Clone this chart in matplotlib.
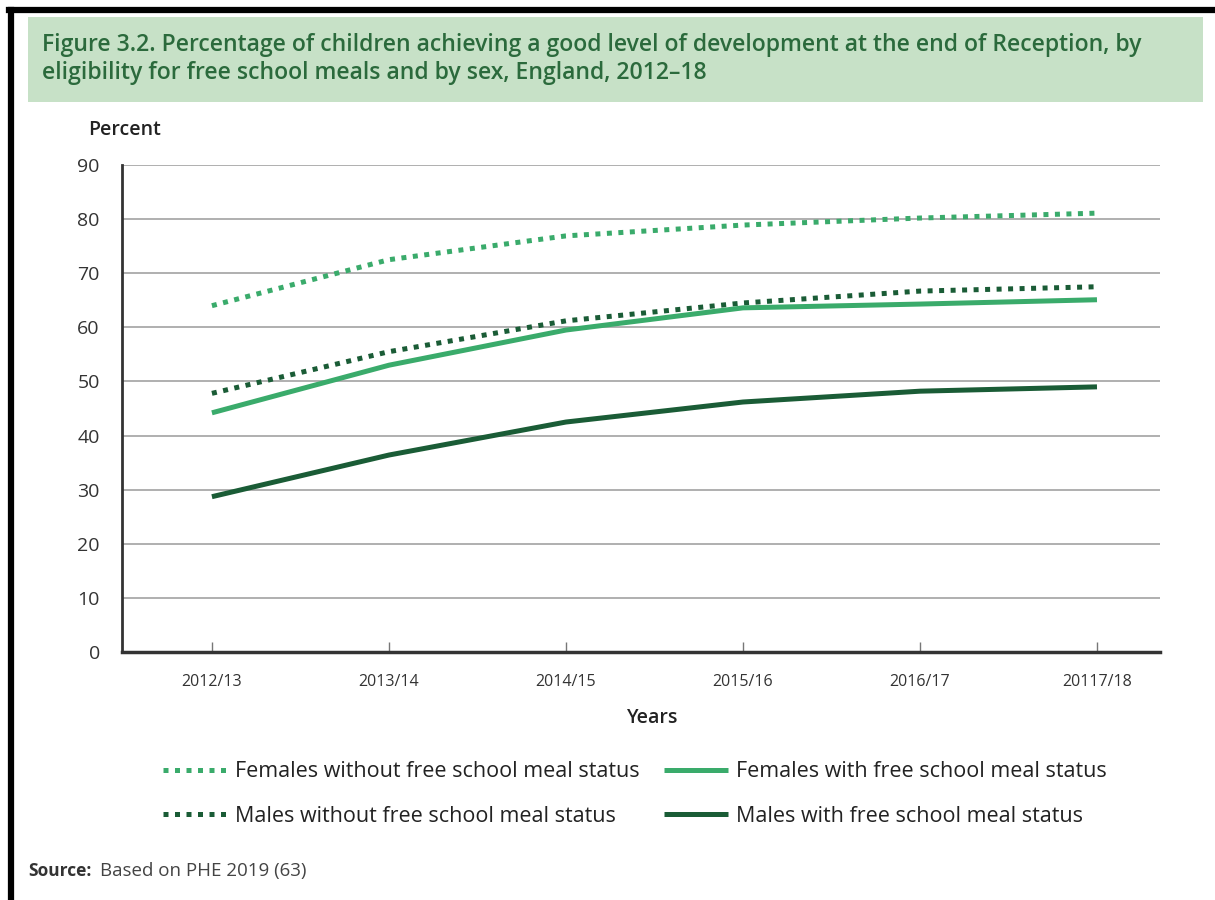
import numpy as np
import matplotlib
matplotlib.use("Agg")
import matplotlib.pyplot as plt
from matplotlib.patches import Rectangle
from matplotlib.lines import Line2D

plt.rcParams['font.family'] = ['Open Sans', 'DejaVu Sans']

# data
years = ["2012/13", "2013/14", "2014/15", "2015/16", "2016/17", "20117/18"]
fem_no_fsm = [64.0, 72.5, 76.9, 78.9, 80.2, 81.1]
fem_fsm = [44.2, 53.0, 59.5, 63.6, 64.3, 65.1]
male_no_fsm = [47.8, 55.5, 61.2, 64.5, 66.7, 67.5]
male_fsm = [28.7, 36.4, 42.5, 46.2, 48.2, 49.0]

light = "#3aab6b"
dark = "#1a5c36"

fig = plt.figure(figsize=(12.15, 9), dpi=100)

# frame lines (top and left)
fig.add_artist(Line2D([0.007, 1.0], [0.989, 0.989], color="black", lw=4.5,
                      transform=fig.transFigure))
fig.add_artist(Line2D([0.0087, 0.0087], [0.0, 0.989], color="black", lw=4.5,
                      transform=fig.transFigure))

# title box
fig.add_artist(Rectangle((28/1215, 1-102/900), (1203-28)/1215, 85/900,
                         transform=fig.transFigure, facecolor="#c7e1c7",
                         edgecolor="none"))
fig.text(42/1215, 1-45/900,
         "Figure 3.2. Percentage of children achieving a good level of development at the end of Reception, by",
         fontsize=16.6, color="#2b6a3c", fontweight="semibold", va="center")
fig.text(42/1215, 1-73/900,
         "eligibility for free school meals and by sex, England, 2012\u201318",
         fontsize=16.6, color="#2b6a3c", fontweight="semibold", va="center")

ax = fig.add_axes([122/1215, 1-652/900, (1160-122)/1215, (652-165)/900])
x = np.arange(len(years))

dot = (0, (1, 1.3))
l1, = ax.plot(x, fem_no_fsm, color=light, lw=3.6, linestyle=dot, dash_capstyle="butt",
              label="Females without free school meal status")
l2, = ax.plot(x, male_no_fsm, color=dark, lw=3.6, linestyle=dot, dash_capstyle="butt",
              label="Males without free school meal status")
l3, = ax.plot(x, fem_fsm, color=light, lw=3.6, solid_capstyle="butt",
              label="Females with free school meal status")
l4, = ax.plot(x, male_fsm, color=dark, lw=3.6, solid_capstyle="butt",
              label="Males with free school meal status")

ax.set_xlim(-0.508, 5.356)
ax.set_ylim(0, 90)
ax.set_yticks(range(0, 91, 10))
ax.set_xticks(x)
ax.set_xticklabels(years)
ax.yaxis.grid(True, color="#9a9a9a", lw=1.1)
ax.set_axisbelow(True)
for s in ["top", "right"]:
    ax.spines[s].set_visible(False)
ax.spines["left"].set_color("#333333")
ax.spines["left"].set_linewidth(2)
ax.spines["bottom"].set_color("#333333")
ax.spines["bottom"].set_linewidth(2.5)
ax.tick_params(axis="y", length=0, pad=16, labelsize=14, labelcolor="#333333")
ax.tick_params(axis="x", direction="in", length=7, width=1, color="#777777",
               pad=16, labelsize=11.5, labelcolor="#333333")

fig.text(88/1215, 1-130/900, "Percent", fontsize=14, fontweight="semibold",
         color="#222222", va="center")
fig.text(653/1215, 1-718/900, "Years", fontsize=14, fontweight="semibold",
         color="#222222", va="center", ha="center")

fig.legend(handles=[l1, l2, l3, l4], ncol=2, loc="center",
           bbox_to_anchor=(635/1215, 1-794/900), frameon=False, fontsize=15.5,
           handlelength=2.95, handletextpad=0.4, columnspacing=1.15,
           labelspacing=1.08, labelcolor="#222222")

fig.text(28/1215, 1-871/900, "Source:", fontsize=12.5, fontweight="bold",
         color="#333333", va="center")
fig.text(100/1215, 1-871/900, "Based on PHE 2019 (63)", fontsize=13.5,
         color="#444444", va="center")

fig.savefig("out.png", dpi=100)
